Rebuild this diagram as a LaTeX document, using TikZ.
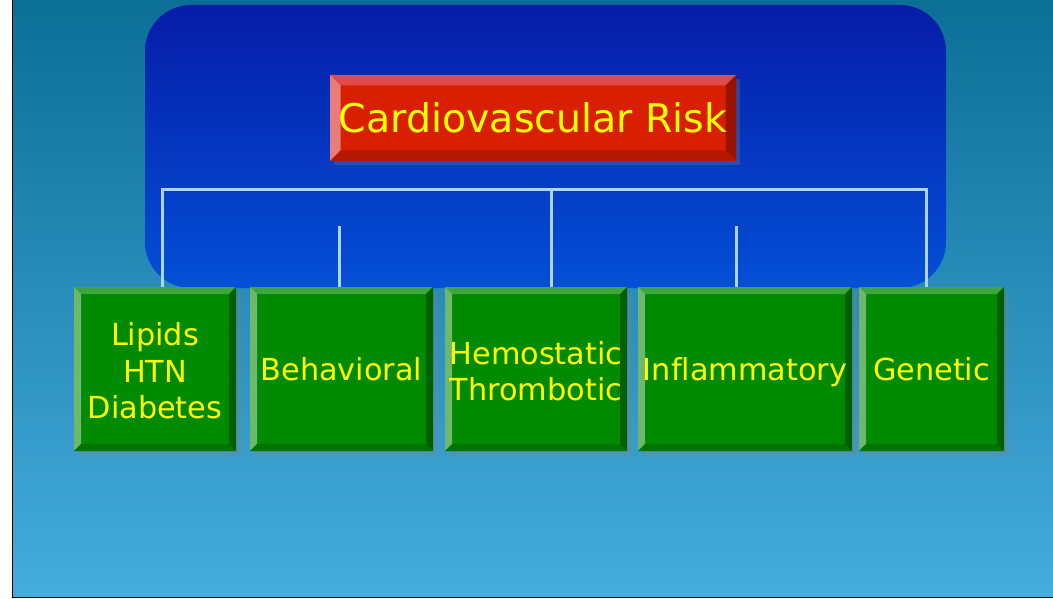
\documentclass[tikz,border=0pt]{standalone}
\usepackage{fontspec}
\setmainfont[Ligatures=NoCommon]{DejaVu Sans}
\usepackage{tikz}
\usetikzlibrary{shadows, calc}

\definecolor{bgtop}{HTML}{0B6F96}
\definecolor{bgmid}{HTML}{2890C0}
\definecolor{bgbot}{HTML}{46ACDD}
\definecolor{panetop}{HTML}{061CA8}
\definecolor{panebot}{HTML}{0450D6}
\definecolor{linkblue}{HTML}{ADD3FF}
\definecolor{txtyellow}{HTML}{FFFF00}
\definecolor{redface}{HTML}{D82000}
\definecolor{redtop}{HTML}{E04A48}
\definecolor{redleft}{HTML}{E87C7A}
\definecolor{redright}{HTML}{9A1200}
\definecolor{redbot}{HTML}{B51800}
\definecolor{grnface}{HTML}{008A00}
\definecolor{grntop}{HTML}{3FA53F}
\definecolor{grnleft}{HTML}{6DB86D}
\definecolor{grnright}{HTML}{005F00}
\definecolor{grnbot}{HTML}{007300}

\newcommand{\facstrut}{\rule[-7pt]{0pt}{36pt}}
\newcommand{\stackstrut}{\rule{0pt}{33.5pt}}

\tikzset{
	bevel/.style n args={5}{% size, top, left, right, bottom
		path picture={
			\fill[#2] (path picture bounding box.north west) -- (path picture bounding box.north east)
				-- ([shift={(-#1,-#1)}]path picture bounding box.north east)
				-- ([shift={(#1,-#1)}]path picture bounding box.north west) -- cycle;
			\fill[#3] (path picture bounding box.north west) -- ([shift={(#1,-#1)}]path picture bounding box.north west)
				-- ([shift={(#1,#1)}]path picture bounding box.south west)
				-- (path picture bounding box.south west) -- cycle;
			\fill[#4] (path picture bounding box.north east) -- (path picture bounding box.south east)
				-- ([shift={(-#1,#1)}]path picture bounding box.south east)
				-- ([shift={(-#1,-#1)}]path picture bounding box.north east) -- cycle;
			\fill[#5] (path picture bounding box.south west) -- (path picture bounding box.south east)
				-- ([shift={(-#1,#1)}]path picture bounding box.south east)
				-- ([shift={(#1,#1)}]path picture bounding box.south west) -- cycle;
		}
	},
	riskbox/.style={rectangle, fill=redface, inner sep=0pt, minimum width=406pt, minimum height=86pt,
		text=txtyellow, font=\fontsize{39.5}{46}\selectfont,
		drop shadow={opacity=0.3, shadow xshift=4pt, shadow yshift=-4pt},
		bevel={10.5pt}{redtop}{redleft}{redright}{redbot}},
	factor/.style={rectangle, fill=grnface, inner sep=0pt, minimum height=164pt,
		text=txtyellow, align=center, font=\fontsize{30.3}{36.5}\selectfont,
		execute at begin node=\facstrut, execute at end node=\facstrut,
		drop shadow={opacity=0.3, shadow xshift=5pt, shadow yshift=-5pt},
		bevel={7pt}{grntop}{grnleft}{grnright}{grnbot}},
	link/.style={draw=linkblue, line width=3pt},
}

\begin{document}
\begin{tikzpicture}[x=1pt, y=-1pt]

		\useasboundingbox (0,0) rectangle (1053,599);

		% Slide background and frame
		\fill[white] (0,0) rectangle (1053,599);
		\shade[top color=bgtop, middle color=bgmid, bottom color=bgbot] (13,0) rectangle (1053,597);
		\draw[black, line width=1.2pt] (12.6,0) -- (12.6,597.4) -- (1053,597.4);

		% Blue pane behind the tree
		\shade[top color=panetop, bottom color=panebot, rounded corners=46pt] (145,5) rectangle (946,288);

		% Top node
		\node[riskbox] (risk) at (533, 118) {Cardiovascular Risk};

		% Bottom row: factors
		\node[factor, minimum width=162pt] (lipids) at (155, 369) {\stackstrut Lipids\\HTN\\Diabetes};
		\node[factor, minimum width=183pt] (behav) at (341.5, 369) {Behavioral};
		\node[factor, minimum width=182pt] (hemo) at (536, 369) {\stackstrut Hemostatic\\Thrombotic};
		\node[factor, minimum width=214pt] (inflam) at (745, 369) {Inflammatory};
		\node[factor, minimum width=145pt] (genet) at (931.5, 369) {Genetic};

		% --- Connecting Lines ---
		\coordinate (barL) at (162, 190);
		\coordinate (barM) at (551, 190);
		\coordinate (barR) at (926, 190);
		\coordinate (stubB) at (339, 226);
		\coordinate (stubI) at (736, 226);

		% Bar with its three legs
		\draw[link] (barL |- lipids.north) -- (barL) -- (barR) -- (barR |- genet.north);
		\draw[link] (barM) -- (barM |- hemo.north);

		% Short loose legs
		\draw[link] (stubB) -- (stubB |- behav.north);
		\draw[link] (stubI) -- (stubI |- inflam.north);

	\end{tikzpicture}
\end{document}
